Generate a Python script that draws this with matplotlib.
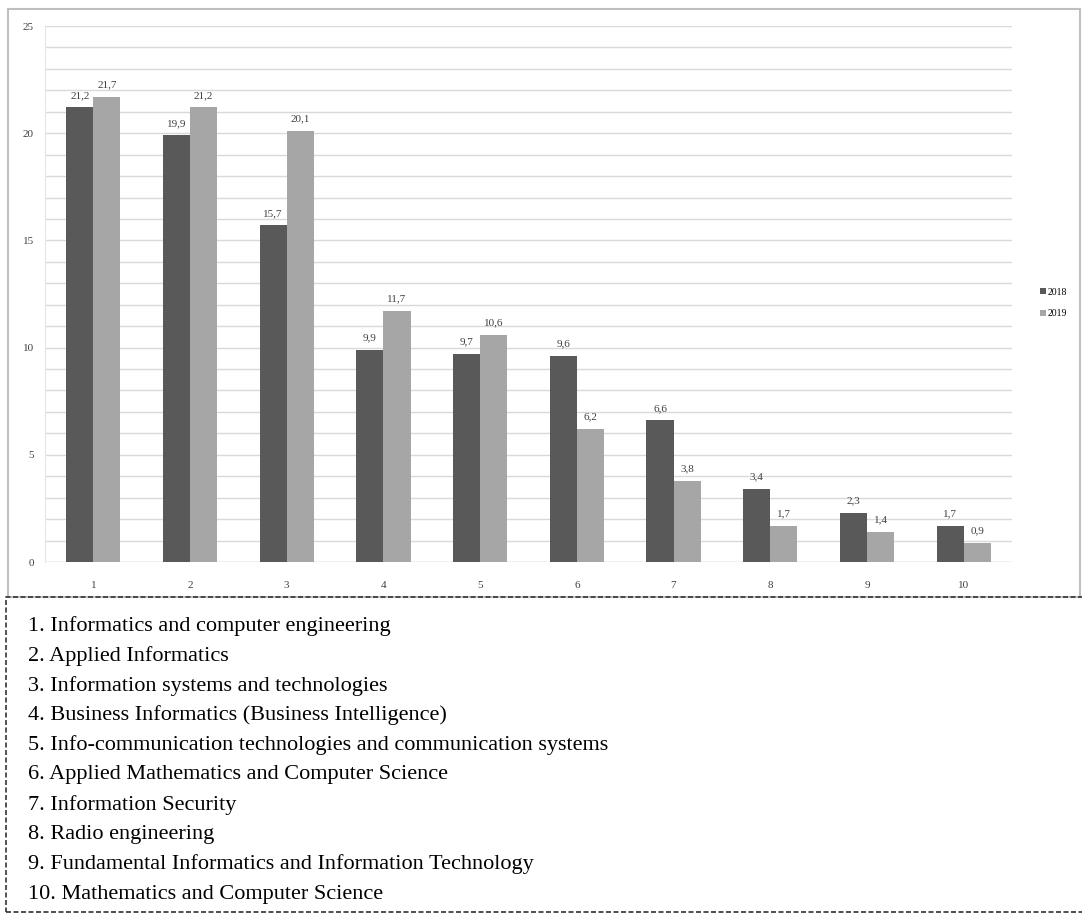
import matplotlib.pyplot as plt
import numpy as np
from matplotlib.patches import Rectangle

# share of graduates by programme, %
categories = ["1", "2", "3", "4", "5", "6", "7", "8", "9", "10"]
values_2018 = [21.2, 19.9, 15.7, 9.9, 9.7, 9.6, 6.6, 3.4, 2.3, 1.7]
values_2019 = [21.7, 21.2, 20.1, 11.7, 10.6, 6.2, 3.8, 1.7, 1.4, 0.9]
series_names = ["2018", "2019"]

programmes = [
    "1. Informatics and computer engineering",
    "2. Applied Informatics",
    "3. Information systems and technologies",
    "4. Business Informatics (Business Intelligence)",
    "5. Info-communication technologies and communication systems",
    "6. Applied Mathematics and Computer Science",
    "7. Information Security",
    "8. Radio engineering",
    "9. Fundamental Informatics and Information Technology",
    "10. Mathematics and Computer Science",
]

dark = "#595959"
light = "#a6a6a6"
serif = "Liberation Serif"

fig = plt.figure(figsize=(10.82, 9.18), dpi=100)
W, H = 1082, 918

def px(x0, y0, x1, y1):
    # pixel box (top-left origin) -> figure fraction rect
    return [x0 / W, 1 - y1 / H, (x1 - x0) / W, (y1 - y0) / H]

# frames: solid chart border and dashed caption box
fig.patches.append(Rectangle((8 / W, 1 - 597 / H), 1072 / W, 588 / H,
                             transform=fig.transFigure, fill=False,
                             edgecolor="#bfbfbf", lw=1.5))
fig.patches.append(Rectangle((6 / W, 1 - 912 / H), 1080 / W, 315 / H,
                             transform=fig.transFigure, fill=False,
                             edgecolor="#333333", lw=1.2, ls=(0, (3, 1.5))))

ax = fig.add_axes(px(45, 26, 1012, 562))
x = np.arange(len(categories))
w = 0.28
b1 = ax.bar(x - w / 2, values_2018, w, color=dark, label=series_names[0], zorder=3)
b2 = ax.bar(x + w / 2, values_2019, w, color=light, label=series_names[1], zorder=3)

for bars, vals in ((b1, values_2018), (b2, values_2019)):
    for r, v in zip(bars, vals):
        ax.text(r.get_x() + r.get_width() / 2, v + 0.35, f"{v:.1f}".replace(".", ","),
                ha="center", va="bottom", fontsize=8, color="#404040", family=serif)

ax.set_xlim(-0.5, len(categories) - 0.5)
ax.set_ylim(0, 25)
ax.set_xticks(x)
ax.set_xticklabels(categories, family=serif, fontsize=8, color="#404040")
ax.set_yticks(np.arange(0, 26, 5))
ax.set_yticklabels([str(t) for t in range(0, 26, 5)], family=serif, fontsize=8, color="#404040")
ax.set_yticks(np.arange(0, 26, 1), minor=True)
ax.tick_params(axis="x", length=0, pad=14)
ax.tick_params(axis="y", length=0, pad=8)
ax.tick_params(axis="y", which="minor", length=0)
ax.grid(axis="y", which="both", color="#d9d9d9", lw=1, zorder=0)
for s in ax.spines.values():
    s.set_visible(False)
ax.spines["left"].set_visible(True)
ax.spines["left"].set_color("#e6e6e6")
ax.axhline(0, color="#d9d9d9", lw=1, zorder=2)

fig.legend(handles=[b1, b2], loc="center left", bbox_to_anchor=(1031 / W, 1 - 303 / H),
           frameon=False, handlelength=0.6, handleheight=0.6,
           handletextpad=0.2, labelspacing=1.3, prop={"family": serif, "size": 7})

for i, line in enumerate(programmes):
    fig.text(28 / W, 1 - (626 + i * 29.8) / H, line, family=serif, fontsize=16,
             va="center", ha="left", color="black")

fig.savefig("out.png", dpi=100)
